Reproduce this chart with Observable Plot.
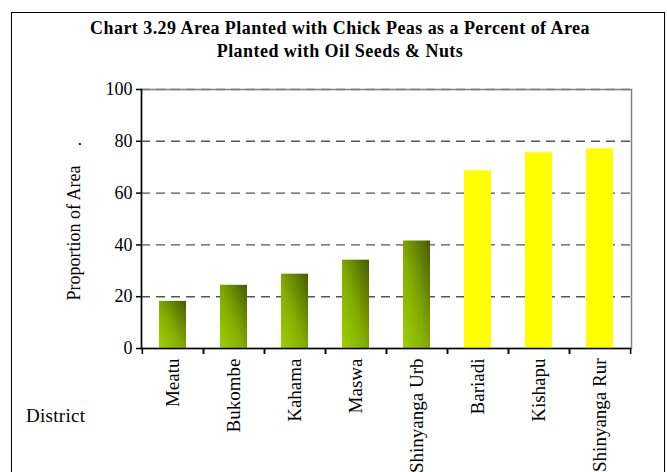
<!DOCTYPE html>
<html>
<head>
<meta charset="utf-8">
<script src="https://cdn.jsdelivr.net/npm/d3@7"></script>
<script src="https://cdn.jsdelivr.net/npm/@observablehq/plot@0.6"></script>
<style>
  html, body { margin: 0; padding: 0; background: #fff; overflow: hidden; }
  #wrap { position: relative; width: 667px; height: 472px; font-family: "Liberation Serif", "Times New Roman", serif; }
  #border { position: absolute; left: 11px; top: 12px; width: 654px; height: 480px; border: 1.5px solid #000; box-sizing: border-box; }
  #title { position: absolute; left: 11px; top: 17px; width: 658px; text-align: center; font-weight: bold; font-size: 18px; letter-spacing: 0.45px; line-height: 23px; color: #000; }
  #xlab { position: absolute; left: 26px; top: 405px; font-size: 19px; letter-spacing: 0.3px; color: #000; }
  .rot { position: absolute; transform: translate(-50%, -50%) rotate(-90deg); white-space: nowrap; font-size: 18px; color: #000; line-height: 20px; }
  #chart { position: absolute; left: 0; top: 0; }
</style>
</head>
<body>
<div id="wrap">
  <div id="border"></div>
  <div id="chart"></div>
  <div id="title">Chart 3.29 Area Planted with Chick Peas as a Percent of Area<br>Planted with Oil Seeds &amp; Nuts</div>
  <div id="xlab">District</div>
  <div class="rot" style="left:74px; top:233px;">Proportion of Area</div>
  <div class="rot" style="left:75px; top:144px;">.</div>
</div>
<script>
const districts = ["Meatu", "Bukombe", "Kahama", "Maswa", "Shinyanga Urb", "Bariadi", "Kishapu", "Shinyanga Rur"];
const values = [18.2, 24.4, 28.7, 34.1, 41.5, 68.6, 75.6, 77.1];
const groups = ["green", "green", "green", "green", "green", "yellow", "yellow", "yellow"];
const yTicks = [0, 20, 40, 60, 80, 100];
const gridTicks = [20, 40, 60, 80, 100];

const data = districts.map((d, i) => ({district: d, value: values[i], group: groups[i]}));
const greenData = data.filter(d => d.group === "green");
const yellowData = data.filter(d => d.group === "yellow");

const W = 667, H = 472, mL = 141, mR = 36, mT = 89, mB = 124;
const step = (W - mL - mR) / districts.length;

const gradient = () => {
  const defs = d3.create("svg:defs");
  const g = defs.append("linearGradient").attr("id", "greenGrad")
    .attr("x1", 0).attr("y1", 1).attr("x2", 1).attr("y2", 0);
  g.append("stop").attr("offset", "0%").attr("stop-color", "#9fd000");
  g.append("stop").attr("offset", "45%").attr("stop-color", "#84ad00");
  g.append("stop").attr("offset", "100%").attr("stop-color", "#465c00");
  return defs.node();
};

const chart = Plot.plot({
  width: W,
  height: H,
  marginLeft: mL,
  marginRight: mR,
  marginTop: mT,
  marginBottom: mB,
  style: {fontFamily: "'Liberation Serif', 'Times New Roman', serif", fontSize: "18px", color: "#000", background: "transparent"},
  x: {domain: districts, paddingInner: 0.56, paddingOuter: 0.28},
  y: {domain: [0, 100]},
  marks: [
    gradient,
    Plot.ruleY(gridTicks, {stroke: "#555", strokeWidth: 1.4, strokeDasharray: "9,6"}),
    Plot.frame({stroke: "#808080", strokeWidth: 1.5}),
    Plot.barY(greenData, {x: "district", y: "value", fill: "url(#greenGrad)"}),
    Plot.barY(yellowData, {x: "district", y: "value", fill: "#ffff00"}),
    Plot.ruleY([0], {stroke: "#000", strokeWidth: 1.5}),
    Plot.frame({anchor: "left", stroke: "#000", strokeWidth: 1.5}),
    Plot.axisY({ticks: yTicks, tickSize: 5, tickPadding: 4, label: null, fontSize: 18, stroke: "#000", strokeWidth: 1.5}),
    Plot.axisX({tickSize: 6, tickFormat: () => "", label: null, dx: -step / 2, stroke: "#000", strokeWidth: 1.5}),
    Plot.axisX({tickSize: 6, tickFormat: () => "", label: null, dx: step / 2, stroke: "#000", strokeWidth: 1.5}),
    Plot.axisX({tickSize: 0, tickPadding: 10, tickRotate: -90, label: null, fontSize: 19})
  ]
});
document.getElementById("chart").appendChild(chart);
</script>
</body>
</html>
